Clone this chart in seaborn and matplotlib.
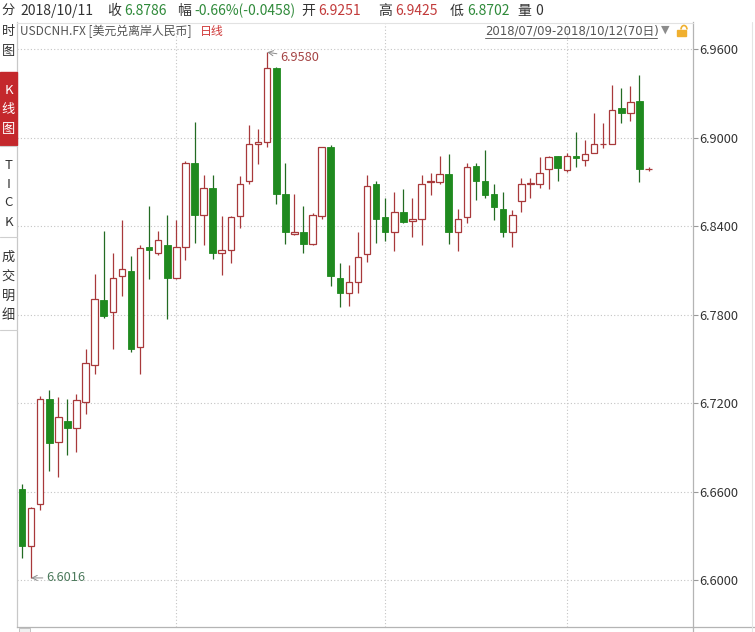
import numpy as np
import pandas as pd
import matplotlib
matplotlib.use("Agg")
import matplotlib.pyplot as plt
import seaborn as sns
from matplotlib.patches import Rectangle, Arc
from matplotlib.lines import Line2D

# ---------------- data ----------------
dates = pd.bdate_range("2018-07-09", "2018-10-12").strftime("%Y/%m/%d").tolist()

opens = [6.662, 6.623, 6.652, 6.723, 6.694, 6.708, 6.703, 6.721, 6.746, 6.790,
         6.782, 6.806, 6.810, 6.758, 6.826, 6.822, 6.827, 6.805, 6.826, 6.883,
         6.848, 6.866, 6.822, 6.824, 6.847, 6.871, 6.896, 6.897, 6.947, 6.862,
         6.835, 6.836, 6.828, 6.847, 6.894, 6.805, 6.795, 6.802, 6.821, 6.869,
         6.846, 6.836, 6.850, 6.8435, 6.845, 6.870, 6.870, 6.8755, 6.836, 6.846,
         6.881, 6.871, 6.862, 6.852, 6.836, 6.857, 6.869, 6.869, 6.879, 6.8877,
         6.878, 6.888, 6.885, 6.890, 6.8955, 6.896, 6.920, 6.9166, 6.9251, 6.8786]
highs = [6.665, 6.650, 6.725, 6.729, 6.724, 6.723, 6.726, 6.757, 6.808, 6.837,
         6.822, 6.844, 6.820, 6.827, 6.854, 6.837, 6.848, 6.844, 6.884, 6.911,
         6.875, 6.875, 6.847, 6.847, 6.874, 6.909, 6.906, 6.958, 6.948, 6.883,
         6.862, 6.854, 6.849, 6.894, 6.895, 6.815, 6.814, 6.836, 6.875, 6.871,
         6.859, 6.863, 6.865, 6.859, 6.875, 6.876, 6.888, 6.889, 6.852, 6.883,
         6.883, 6.892, 6.869, 6.863, 6.851, 6.873, 6.8725, 6.887, 6.888, 6.888,
         6.890, 6.904, 6.8985, 6.917, 6.910, 6.936, 6.934, 6.935, 6.9425, 6.8800]
lows = [6.615, 6.6016, 6.648, 6.674, 6.670, 6.685, 6.687, 6.713, 6.740, 6.778,
        6.757, 6.793, 6.755, 6.740, 6.804, 6.8205, 6.777, 6.804, 6.817, 6.829,
        6.827, 6.818, 6.807, 6.815, 6.839, 6.869, 6.882, 6.894, 6.855, 6.828,
        6.834, 6.822, 6.827, 6.845, 6.7995, 6.7855, 6.786, 6.795, 6.816, 6.829,
        6.830, 6.823, 6.8425, 6.8325, 6.827, 6.861, 6.869, 6.828, 6.8235, 6.842,
        6.858, 6.859, 6.844, 6.8325, 6.826, 6.850, 6.859, 6.866, 6.865, 6.871,
        6.877, 6.880, 6.881, 6.890, 6.893, 6.8955, 6.910, 6.9116, 6.8702, 6.8775]
closes = [6.623, 6.649, 6.723, 6.693, 6.711, 6.703, 6.722, 6.747, 6.791, 6.779,
          6.805, 6.811, 6.757, 6.825, 6.824, 6.831, 6.805, 6.826, 6.883, 6.848,
          6.866, 6.822, 6.824, 6.846, 6.869, 6.896, 6.897, 6.947, 6.862, 6.836,
          6.836, 6.828, 6.848, 6.894, 6.806, 6.795, 6.802, 6.819, 6.867, 6.845,
          6.836, 6.850, 6.843, 6.8447, 6.869, 6.871, 6.8755, 6.836, 6.845, 6.880,
          6.871, 6.861, 6.853, 6.836, 6.848, 6.869, 6.8695, 6.876, 6.887, 6.8793,
          6.888, 6.886, 6.889, 6.8956, 6.896, 6.919, 6.9166, 6.924, 6.8786, 6.8790]
y_ticks = [6.60, 6.66, 6.72, 6.78, 6.84, 6.90, 6.96]
month_starts = ["2018/08/01", "2018/09/03", "2018/10/01"]
max_label, min_label = "6.9580", "6.6016"

df = pd.DataFrame({"date": dates, "open": opens, "high": highs,
                   "low": lows, "close": closes})
df["i"] = np.arange(len(df))
df["up"] = df["close"] >= df["open"]

# ---------------- style ----------------
sns.set_theme(style="white")
plt.rcParams["font.family"] = ["Noto Sans CJK SC", "DejaVu Sans"]

W, H = 755, 632
fig = plt.figure(figsize=(W / 100, H / 100), dpi=100)
fig.patch.set_facecolor("white")

def fx(px):
    return px / W

def fy(py):
    return 1 - py / H

ax_l, ax_r, ax_t, ax_b = 17, 693, 22, 627
ax = fig.add_axes([fx(ax_l), fy(ax_b), (ax_r - ax_l) / W, (ax_b - ax_t) / H])
ax.set_facecolor("white")

RED_EDGE = "#a8393b"
GREEN = "#1f8a1f"
GREEN_WICK = "#236b23"

up = df[df["up"]]
dn = df[~df["up"]]
# wicks
ax.vlines(up["i"], up["low"], up["high"], colors=RED_EDGE, lw=0.9, zorder=2)
ax.vlines(dn["i"], dn["low"], dn["high"], colors=GREEN_WICK, lw=0.9, zorder=2)
# bodies
bw = 0.72
ax.bar(up["i"], np.maximum(up["close"] - up["open"], 0.0004), bottom=up["open"],
       width=bw, color="white", edgecolor=RED_EDGE, lw=0.9, zorder=3)
ax.bar(dn["i"], np.maximum(dn["open"] - dn["close"], 0.0004), bottom=dn["close"],
       width=bw, color=GREEN, edgecolor=GREEN, lw=0.6, zorder=3)

# scales
ax.set_xlim(-0.55, 73.9)
ax.set_ylim(6.56834, 6.97851)
ax.set_yticks(y_ticks)
ax.set_yticklabels([f"{t:.4f}" for t in y_ticks])
ax.yaxis.tick_right()
ax.tick_params(axis="y", length=3.6, width=0.8, color="#999999", labelsize=9.2,
               labelcolor="#333333", pad=1)
ax.set_xticks([dates.index(d) for d in month_starts])
ax.set_xticklabels([])
ax.tick_params(axis="x", length=0)
ax.grid(True, axis="both", color="#c4c4c4", lw=0.8, ls=(0, (1, 2)))
ax.set_axisbelow(True)
for side, col in [("left", "#c8c8c8"), ("right", "#b4b4b4"),
                  ("bottom", "#b4b4b4"), ("top", "#dddddd")]:
    ax.spines[side].set_color(col)
    ax.spines[side].set_linewidth(0.9)
ax.spines["top"].set_visible(False)

# max / min annotations
imax = int(np.argmax(highs))
imin = int(np.argmin(lows))
ax.annotate(max_label, xy=(imax, highs[imax]), xytext=(13, -5),
            textcoords="offset pixels", color="#a54545", fontsize=9.2,
            va="center", ha="left",
            arrowprops=dict(arrowstyle="->", color="#8a8a8a", lw=0.7,
                            shrinkA=0, shrinkB=0))
ax.annotate(min_label, xy=(imin, lows[imin]), xytext=(15, 0),
            textcoords="offset pixels", color="#4c7a5c", fontsize=9.2,
            va="center", ha="left",
            arrowprops=dict(arrowstyle="->", color="#8a8a8a", lw=0.7,
                            shrinkA=0, shrinkB=0))

# ---------------- header ----------------
GRAY = "#333333"
HRED = "#c23a3a"
HGREEN = "#2f8a3a"
row1 = [("2018/10/11", 20, GRAY), ("收", 107, GRAY), ("6.8786", 124, HGREEN),
        ("幅", 177, GRAY), ("-0.66%(-0.0458)", 194, HGREEN),
        ("开", 301, GRAY), ("6.9251", 318, HRED),
        ("高", 378, GRAY), ("6.9425", 395, HRED),
        ("低", 450, GRAY), ("6.8702", 467, HGREEN),
        ("量", 517, GRAY), ("0", 535, GRAY)]
for s, x, c in row1:
    fig.text(fx(x), fy(11), s, color=c, fontsize=10, va="center", ha="left")

fig.text(fx(20), fy(31), "USDCNH.FX [美元兑离岸人民币]", color="#555555",
         fontsize=8.6, va="center", ha="left")
fig.text(fx(200), fy(31), "日线", color="#d03a3a", fontsize=8.6,
         va="center", ha="left")
fig.text(fx(485), fy(31), f"{dates[0]}-{dates[-1]}({len(dates)}日)",
         color="#555555", fontsize=8.4, va="center", ha="left",
         family=["DejaVu Sans", "Noto Sans CJK SC"])
fig.add_artist(Line2D([fx(485), fx(657)], [fy(37.5), fy(37.5)],
                      color="#666666", lw=0.7))
fig.text(fx(665), fy(30), "▼", color="#8c8c8c", fontsize=8, va="center",
         ha="center", family=["DejaVu Sans"])
# lock icon
fig.add_artist(Rectangle((fx(677), fy(36)), 9 / W, 6 / H, color="#f0b030",
                         transform=fig.transFigure))
fig.add_artist(Arc((fx(684), fy(29.5)), 6 / W, 8 / H, theta1=0, theta2=180,
                   color="#f0b030", lw=1.2, transform=fig.transFigure))
fig.add_artist(Line2D([fx(ax_l), fx(ax_r)], [fy(22.5), fy(22.5)],
                      color="#e2e2e2", lw=0.8))

# ---------------- left sidebar ----------------
fig.add_artist(Rectangle((0, fy(145)), fx(17), (145 - 72) / H,
                         color="#c4282c", transform=fig.transFigure))
side = [("分", 10, GRAY), ("时", 31, GRAY), ("图", 52, GRAY),
        ("K", 91, "white"), ("线", 110, "white"), ("图", 129, "white"),
        ("T", 165, GRAY), ("I", 184, GRAY), ("C", 203, GRAY), ("K", 222, GRAY),
        ("成", 257, GRAY), ("交", 277, GRAY), ("明", 296, GRAY), ("细", 315, GRAY)]
for s, y, c in side:
    fig.text(fx(8.5), fy(y), s, color=c, fontsize=9.5, va="center", ha="center")
for y in [146, 237, 330]:
    fig.add_artist(Line2D([0, fx(17)], [fy(y), fy(y)], color="#cfcfcf", lw=0.8))

# right border & bottom bits
fig.add_artist(Line2D([fx(693), fx(693)], [0, fy(627)], color="#b4b4b4", lw=0.9))
fig.add_artist(Line2D([fx(693), fx(755)], [fy(627), fy(627)], color="#b4b4b4", lw=0.9))
fig.add_artist(Line2D([fx(752), fx(752)], [0, fy(22)], color="#e4e4e4", lw=0.8))
fig.add_artist(Rectangle((fx(19), 0), 11 / W, 4 / H, facecolor="#f0f0f0",
                         edgecolor="#bbbbbb", lw=0.6, transform=fig.transFigure))

fig.savefig("out.png", dpi=100, facecolor="white")
